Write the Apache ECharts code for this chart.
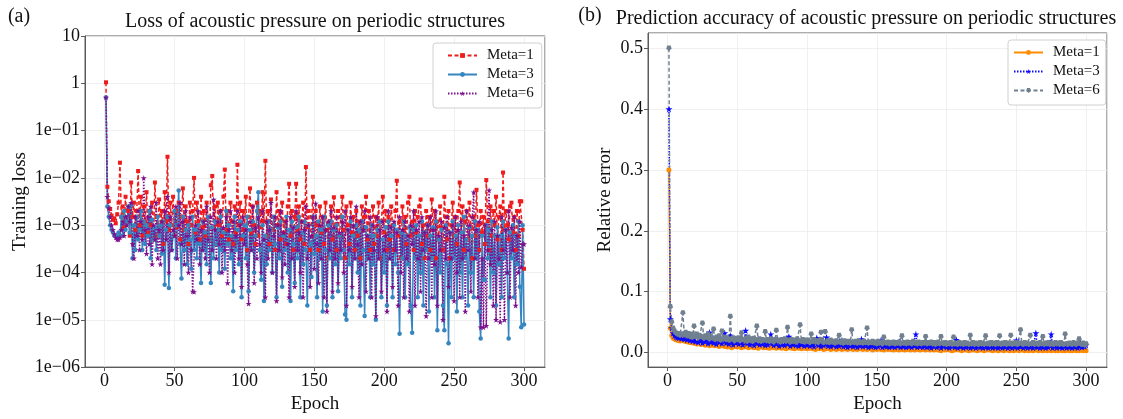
<!DOCTYPE html>
<html><head><meta charset="utf-8">
<script src="https://cdn.jsdelivr.net/npm/echarts@6/dist/echarts.min.js"></script>
<style>html,body{margin:0;padding:0;background:#fff}#c{width:1123px;height:419px}</style>
</head><body><div id="c"></div>
<script>
// ---- Data ----
const epochCount = 300;
const xTicks = [0, 50, 100, 150, 200, 250, 300];
const logTicks = [1e-6, 1e-5, 1e-4, 1e-3, 1e-2, 1e-1, 1, 10];
const legendNames = ['Meta=1', 'Meta=3', 'Meta=6'];

// (a) Training loss
const lossMeta1 = [
1.05,6.5e-3,3.2e-3,2.2e-3,1.6e-3,1.3e-3,1.4e-3,1.1e-3,1.7e-3,3e-3,
2.1e-2,1.5e-3,2.5e-3,9e-4,4e-3,1.2e-3,2e-3,6e-4,8e-3,1.5e-3,
3e-3,8e-4,2e-3,1.4e-2,1e-3,4e-3,6e-4,2.5e-3,1.2e-3,5e-3,
7e-4,2e-3,1e-3,3e-3,5e-4,8e-3,1.5e-3,6e-4,3.5e-3,1e-3,
2e-3,4e-4,5e-3,1.2e-3,2.8e-2,8e-4,3e-3,1e-3,4e-3,6e-4,
2e-3,9e-4,3e-3,5e-4,1.5e-3,6e-3,8e-4,2.5e-3,1.2e-3,4e-4,
3e-3,1e-3,2e-3,1e-2,7e-4,3e-3,1.2e-3,5e-4,4e-3,9e-4,
2e-3,6e-4,3e-3,1.5e-3,5e-4,7e-3,1.1e-2,9e-4,2.5e-3,4e-4,
3e-3,1e-3,2e-3,6e-4,4e-3,1.5e-2,8e-4,2e-3,5e-4,3e-3,
1.2e-3,4e-4,2.5e-3,7e-4,1.9e-2,1e-3,3e-3,5e-4,2e-3,8e-4,
4e-3,3e-4,1.5e-3,6e-3,7e-4,2.5e-3,1e-3,4e-4,3e-3,6e-4,
2e-3,9e-4,5e-3,1.2e-3,2.3e-2,6e-4,2e-3,4e-4,3.5e-3,8e-4,
1.5e-3,3e-4,5e-3,1e-3,2e-3,5e-4,3e-3,7e-4,1.2e-3,4e-4,
2.5e-3,7.5e-3,6e-4,2e-3,3e-4,1.5e-3,7.5e-3,8e-4,2.5e-3,5e-4,
1.2e-3,3e-3,4e-4,1.7e-2,9e-4,2e-3,3e-4,1.5e-3,4e-3,6e-4,
2e-3,1e-3,3e-4,2.5e-3,7e-4,1.5e-3,4e-4,3e-3,8e-4,2e-4,
1.2e-3,2.5e-3,5e-4,3.9e-3,1e-3,3e-4,2e-3,6e-4,1.5e-3,4e-3,
8e-4,2e-4,2.5e-3,1e-3,4e-4,3e-3,7e-4,1.5e-3,3e-4,2e-3,
6e-4,1.2e-3,2e-4,2.5e-3,8e-4,1.5e-3,4e-3,5e-4,2e-3,3e-4,
1e-3,2.5e-3,4e-4,1.5e-3,6e-4,3e-3,2e-4,1.2e-3,4e-3,7e-4,
2e-3,3e-4,1.5e-3,5e-4,2.5e-3,1e-3,3e-4,2e-3,8.7e-3,6e-4,
1.2e-3,2e-4,2.5e-3,8e-4,1.5e-3,4e-4,3e-3,4e-3,6e-4,1.2e-3,
3e-4,2e-3,7e-4,1.5e-3,2.5e-3,3.5e-3,4e-4,1e-3,2e-4,2e-3,
6e-4,1.5e-3,3e-4,3.5e-3,8e-4,2e-3,2e-4,1.2e-3,5e-4,2.5e-3,
9e-4,3e-4,4e-3,1.5e-3,5e-4,2e-3,2e-4,1e-3,3e-3,6e-4,
1.5e-3,4e-4,2e-3,8e-3,7e-4,2.5e-3,3e-4,1.2e-3,2e-3,5e-4,
3e-3,9e-4,2e-4,1.5e-3,6e-4,5.6e-3,1e-3,3e-4,2e-3,7e-4,
1.5e-3,4e-4,9e-3,1.2e-3,3e-4,2.5e-3,6e-4,2e-3,1e-3,4e-3,
5e-4,1.5e-3,2.5e-3,3e-4,1.3e-2,8e-4,2e-3,1e-3,5e-4,2.5e-3,
3e-3,7e-4,1.5e-3,3e-4,2e-3,6e-4,3.2e-3,3.2e-3,8e-4,1.2e-4];

const lossMeta3 = [
0.5,2.5e-3,1.5e-3,1e-3,8e-4,7e-4,6e-4,6e-4,5.5e-4,7e-4,
6e-4,1.5e-3,6e-4,2e-3,8e-4,1.2e-3,2.5e-3,7e-4,2.6e-3,2e-4,
1e-3,3e-4,1.5e-3,5e-4,8e-4,2e-3,3e-4,1.2e-3,4e-4,1e-3,
6e-4,2e-3,2e-4,1.3e-3,5e-4,9e-4,3e-4,1.5e-3,6e-4,1e-3,
2.5e-4,1.2e-3,5.5e-5,8e-4,1.5e-3,4.7e-5,1e-3,3e-4,6e-4,2e-3,
2e-4,1e-3,5.4e-3,4e-4,7.5e-5,1.5e-3,3e-4,8e-4,1.5e-4,1e-3,
5e-4,1.2e-4,1.5e-3,3e-4,8e-4,2e-4,1e-3,4e-4,6e-5,1.2e-3,
3e-4,7e-4,1.5e-4,1.5e-3,5e-4,6e-5,9e-4,2e-4,1.2e-3,4e-4,
8e-4,1e-4,1.5e-3,3e-4,7e-4,1.2e-4,2e-3,4e-4,1e-3,2e-4,
6e-4,4e-5,1.5e-3,3e-4,8e-4,1.5e-4,1.2e-3,3e-5,6e-4,1e-3,
2e-4,1.5e-3,4e-5,8e-4,3e-4,1.2e-3,1e-4,6e-4,2e-3,5e-3,
3e-4,7e-5,1e-3,2.5e-5,6e-4,1.5e-4,1.2e-3,3e-4,8e-4,1e-4,
1.5e-3,4e-4,3e-5,9e-4,2e-4,1.2e-3,5e-5,6e-4,3e-4,1.5e-3,
1e-4,8e-4,2.5e-5,1.2e-3,4e-4,6e-5,9e-4,2e-4,1.5e-3,3e-5,
7e-4,1.5e-4,1.2e-3,3e-4,2e-5,1e-3,4e-4,8e-5,1.5e-3,2.5e-4,
6e-4,3e-5,1.2e-3,2e-4,8e-4,1.5e-5,1.5e-3,3e-4,2e-5,1e-3,
2e-4,1.2e-3,3e-5,8e-4,1.5e-4,1e-3,4e-5,6e-4,2e-4,1.5e-3,
3e-4,1.3e-5,1e-5,8e-4,1.5e-4,1.2e-3,3e-5,6e-4,2e-4,1e-3,
1e-4,8e-4,2e-5,1.2e-3,3e-4,1.2e-5,9e-4,2e-4,6e-4,3e-5,
1e-3,1.5e-4,6e-4,1e-5,8e-4,2e-4,1.2e-3,3e-5,5e-4,1e-4,
9e-4,2e-5,1.2e-3,2e-4,6e-4,3e-5,1e-3,1.5e-4,8e-4,1e-4,
5.1e-6,7e-4,2e-4,1.2e-3,3e-5,6e-4,1.5e-4,9e-4,2e-5,5.3e-6,
8e-4,2e-4,1e-3,3e-5,6e-4,1e-4,1.2e-3,2e-5,7e-4,3e-4,
1e-3,1.5e-5,6e-4,2e-4,9e-4,3e-5,1.2e-3,6e-6,5e-4,1e-4,
8e-4,2e-5,6e-6,1e-3,1.5e-4,3.2e-6,7e-4,3e-5,1.2e-3,2e-4,
6e-4,1.5e-5,1e-3,1e-4,7e-4,3e-5,1.5e-3,2e-4,5e-4,2e-5,
9e-4,1e-4,6e-4,3e-5,1.2e-3,2e-4,8e-4,1.5e-5,4e-6,6e-4,
7e-5,7e-5,1e-3,2e-4,8e-4,3e-5,1.2e-3,1e-4,6e-4,2e-5,
9e-4,1.5e-4,6e-4,3e-5,1.2e-3,2e-4,8e-4,1e-4,4e-6,7e-4,
2e-4,1e-3,3e-5,6e-4,1.5e-4,1.2e-3,5e-5,7e-6,1e-3,8e-6];

const lossMeta6 = [
0.5,4e-3,2.3e-3,1.5e-3,1e-3,8e-4,6.5e-4,5.5e-4,5e-4,5e-4,
5.5e-4,8e-4,1.2e-3,6e-4,1.5e-3,1e-3,2.5e-3,1.2e-3,3e-3,4e-4,
2e-4,1.5e-3,6e-4,2e-3,3e-4,1.2e-3,5e-4,1e-2,8e-4,2.5e-4,
1.5e-3,4e-4,2.5e-3,1.5e-4,1e-3,5e-4,3e-3,2e-4,8e-4,1.5e-4,
1.2e-3,3e-4,2e-3,5e-4,4e-3,1e-4,1.5e-3,3e-4,8e-4,6e-4,
2.5e-3,2e-4,1e-3,3e-3,4e-4,1.2e-3,1.5e-4,2e-3,6e-4,1e-4,
1.5e-3,3e-4,4e-5,3.9e-5,1e-3,5e-4,2e-3,1.5e-4,8e-4,3e-4,
1.2e-3,2e-4,2.5e-3,5e-4,1e-4,1.5e-3,3e-4,3.5e-3,8e-4,2e-4,
1.2e-3,4e-4,2e-3,1e-4,9e-4,3e-4,1.5e-3,6e-5,8e-4,2e-3,
3e-4,1.2e-3,1e-4,6e-4,2e-3,2e-4,1e-3,5e-5,1.5e-3,4e-4,
8e-4,1.5e-4,2.2e-5,1.2e-3,3e-4,2.5e-3,6e-5,9e-4,2e-4,1.5e-3,
4e-4,1e-4,2e-3,5e-4,3e-5,1.2e-3,2e-4,8e-4,3e-3,1e-4,
6e-4,1.5e-3,2.5e-5,1e-3,3e-4,2e-3,8e-5,7e-4,1.5e-4,1.2e-3,
4e-4,3e-5,1.5e-3,2e-4,9e-4,5e-5,2e-3,3e-4,7e-4,1e-4,
1.2e-3,3e-5,8e-4,2.5e-3,2e-4,1e-3,5e-5,6e-4,1.5e-3,1.2e-4,
2.9e-3,4e-4,6e-5,1e-3,2e-4,1.5e-3,3e-5,8e-4,1.5e-5,1.2e-3,
3e-4,2e-3,4e-5,9e-4,2e-4,1.5e-3,6e-5,7e-4,3e-4,1.2e-3,
1e-4,2e-3,2e-5,8e-4,3e-4,1.5e-3,5e-5,1e-3,2e-4,2.5e-3,
4e-4,3e-5,1.2e-3,1.5e-4,8e-4,2e-3,4e-5,6e-4,2e-4,1.5e-3,
3e-5,1e-3,3e-4,1.2e-5,1.5e-3,2e-4,8e-4,4e-5,1.2e-3,3e-4,
6e-4,1.5e-5,2e-3,2e-4,9e-4,5e-5,1.2e-3,3e-4,7e-4,2e-5,
1.5e-3,1e-4,8e-4,3e-5,1.2e-3,2e-4,6e-4,1.5e-5,1e-3,4e-4,
2e-3,2e-5,8e-4,2e-4,1.2e-3,4e-5,1.5e-3,3e-4,7e-4,1.2e-5,
1e-3,2e-4,1.5e-3,3e-5,8e-4,1.5e-4,2e-3,2e-5,6e-4,3e-4,
1.2e-3,1e-5,9e-4,2e-4,1.5e-3,5e-5,7e-4,2e-4,1e-3,2.5e-5,
1.5e-3,1e-4,8e-4,3e-5,1.2e-3,2e-4,6e-4,1.5e-5,2e-3,3e-4,
1e-3,4e-5,1.5e-3,5e-3,2e-4,8e-4,3e-5,1.2e-3,7e-6,2e-4,
7e-6,1e-3,7.5e-6,3e-4,5.5e-3,1.5e-4,8e-4,2e-5,1.2e-3,1e-5,
6e-4,2e-4,9e-6,1.5e-3,3e-4,1e-5,8e-4,1e-4,2e-3,3e-5,
9e-4,3e-4,1.5e-3,2e-5,6e-4,1e-4,1.2e-3,1.3e-4,4e-4,4e-4];

// (b) Relative error
const errMeta1 = [
0.30,0.04,0.028,0.024,0.022,0.021,0.02,0.02,0.019,0.02,
0.021,0.019,0.018,0.02,0.017,0.018,0.016,0.019,0.015,0.017,
0.014,0.016,0.015,0.013,0.016,0.014,0.012,0.015,0.013,0.011,
0.014,0.012,0.013,0.011,0.014,0.012,0.01,0.013,0.011,0.012,
0.01,0.013,0.009,0.012,0.011,0.008,0.012,0.01,0.011,0.009,
0.012,0.01,0.008,0.011,0.009,0.012,0.01,0.008,0.011,0.009,
0.01,0.008,0.011,0.009,0.007,0.01,0.009,0.011,0.008,0.01,
0.008,0.01,0.007,0.009,0.011,0.008,0.009,0.007,0.01,0.008,
0.009,0.007,0.01,0.008,0.006,0.009,0.008,0.01,0.007,0.008,
0.006,0.009,0.008,0.007,0.01,0.006,0.008,0.007,0.009,0.006,
0.008,0.007,0.009,0.006,0.008,0.005,0.007,0.009,0.006,0.012,
0.007,0.005,0.008,0.006,0.009,0.007,0.005,0.008,0.006,0.007,
0.005,0.008,0.006,0.007,0.005,0.009,0.006,0.007,0.005,0.008,
0.006,0.007,0.005,0.008,0.006,0.005,0.007,0.006,0.008,0.005,
0.007,0.006,0.005,0.008,0.006,0.007,0.004,0.006,0.008,0.005,
0.006,0.007,0.005,0.006,0.004,0.007,0.006,0.005,0.008,0.005,
0.006,0.004,0.007,0.005,0.006,0.004,0.007,0.005,0.006,0.004,
0.006,0.005,0.007,0.004,0.006,0.005,0.004,0.007,0.005,0.006,
0.004,0.006,0.005,0.007,0.004,0.005,0.006,0.004,0.007,0.005,
0.004,0.006,0.005,0.004,0.006,0.003,0.005,0.006,0.004,0.005,
0.006,0.004,0.005,0.003,0.006,0.004,0.005,0.006,0.004,0.005,
0.003,0.005,0.006,0.004,0.005,0.003,0.006,0.004,0.005,0.004,
0.006,0.003,0.005,0.004,0.006,0.004,0.003,0.005,0.004,0.006,
0.004,0.005,0.003,0.005,0.004,0.006,0.003,0.005,0.004,0.005,
0.003,0.005,0.004,0.006,0.003,0.004,0.005,0.003,0.005,0.004,
0.005,0.003,0.004,0.006,0.004,0.003,0.005,0.004,0.003,0.005,
0.004,0.003,0.005,0.004,0.006,0.003,0.004,0.005,0.003,0.004,
0.005,0.003,0.004,0.005,0.003,0.004,0.005,0.003,0.004,0.003,
0.005,0.004,0.003,0.005,0.003,0.004,0.005,0.003,0.004,0.003,
0.004,0.005,0.003,0.004,0.003,0.005,0.004,0.003,0.004,0.003];

const errMeta3 = [
0.40,0.055,0.04,0.032,0.028,0.026,0.025,0.024,0.026,0.023,
0.03,0.022,0.027,0.021,0.025,0.02,0.028,0.019,0.024,0.018,
0.026,0.017,0.022,0.02,0.016,0.024,0.018,0.021,0.015,0.033,
0.017,0.022,0.016,0.02,0.014,0.023,0.017,0.019,0.015,0.021,
0.032,0.016,0.02,0.014,0.028,0.018,0.013,0.021,0.016,0.019,
0.014,0.022,0.017,0.013,0.02,0.036,0.015,0.019,0.013,0.021,
0.016,0.012,0.019,0.015,0.022,0.013,0.018,0.014,0.02,0.012,
0.017,0.013,0.021,0.03,0.015,0.012,0.018,0.014,0.02,0.011,
0.016,0.013,0.019,0.012,0.017,0.014,0.026,0.011,0.018,0.013,
0.016,0.012,0.02,0.011,0.015,0.013,0.019,0.011,0.017,0.012,
0.015,0.011,0.018,0.013,0.01,0.016,0.024,0.012,0.015,0.01,
0.018,0.012,0.014,0.025,0.011,0.016,0.01,0.014,0.012,0.017,
0.01,0.015,0.011,0.013,0.02,0.01,0.015,0.012,0.009,0.016,
0.011,0.014,0.01,0.017,0.012,0.009,0.015,0.011,0.022,0.01,
0.014,0.011,0.016,0.009,0.013,0.01,0.015,0.011,0.009,0.014,
0.01,0.013,0.02,0.009,0.014,0.011,0.01,0.015,0.009,0.012,
0.01,0.014,0.009,0.012,0.011,0.018,0.009,0.013,0.01,0.012,
0.009,0.014,0.01,0.012,0.009,0.013,0.011,0.03,0.009,0.012,
0.01,0.013,0.009,0.011,0.014,0.009,0.012,0.01,0.008,0.013,
0.01,0.012,0.009,0.014,0.011,0.008,0.012,0.01,0.013,0.009,
0.011,0.008,0.013,0.01,0.012,0.009,0.021,0.008,0.011,0.01,
0.013,0.008,0.011,0.009,0.012,0.01,0.008,0.013,0.009,0.011,
0.008,0.012,0.01,0.009,0.013,0.008,0.011,0.009,0.012,0.008,
0.01,0.012,0.008,0.011,0.009,0.013,0.008,0.01,0.012,0.008,
0.011,0.009,0.013,0.008,0.01,0.012,0.008,0.011,0.009,0.02,
0.008,0.011,0.01,0.012,0.008,0.01,0.013,0.008,0.011,0.009,
0.012,0.008,0.01,0.032,0.009,0.011,0.008,0.012,0.009,0.01,
0.008,0.011,0.009,0.012,0.03,0.008,0.01,0.012,0.008,0.011,
0.009,0.012,0.008,0.01,0.011,0.008,0.012,0.009,0.01,0.008,
0.011,0.009,0.012,0.008,0.01,0.016,0.009,0.011,0.01,0.012];

const errMeta6 = [
0.50,0.075,0.05,0.04,0.035,0.032,0.03,0.031,0.028,0.03,
0.065,0.029,0.033,0.027,0.031,0.026,0.03,0.025,0.043,0.026,
0.03,0.024,0.028,0.026,0.048,0.023,0.027,0.025,0.03,0.022,
0.026,0.024,0.038,0.021,0.025,0.023,0.027,0.02,0.035,0.022,
0.025,0.021,0.024,0.02,0.059,0.022,0.024,0.019,0.023,0.021,
0.024,0.019,0.032,0.021,0.02,0.023,0.018,0.025,0.02,0.022,
0.018,0.023,0.021,0.043,0.019,0.022,0.018,0.021,0.02,0.034,
0.019,0.021,0.018,0.022,0.02,0.017,0.021,0.036,0.019,0.02,
0.017,0.021,0.019,0.022,0.018,0.041,0.02,0.017,0.021,0.018,
0.02,0.017,0.022,0.019,0.045,0.018,0.021,0.017,0.02,0.018,
0.02,0.016,0.03,0.018,0.021,0.017,0.019,0.016,0.02,0.033,
0.018,0.016,0.034,0.017,0.019,0.016,0.02,0.017,0.018,0.015,
0.019,0.017,0.028,0.016,0.018,0.015,0.019,0.017,0.016,0.018,
0.015,0.037,0.017,0.016,0.018,0.015,0.019,0.016,0.017,0.015,
0.018,0.016,0.04,0.015,0.017,0.016,0.018,0.015,0.017,0.014,
0.018,0.015,0.017,0.014,0.025,0.016,0.015,0.017,0.014,0.016,
0.015,0.017,0.014,0.016,0.015,0.017,0.014,0.027,0.015,0.016,
0.014,0.017,0.015,0.016,0.014,0.018,0.015,0.016,0.014,0.017,
0.015,0.014,0.016,0.015,0.026,0.014,0.016,0.015,0.017,0.014,
0.016,0.013,0.015,0.017,0.014,0.026,0.015,0.014,0.016,0.013,
0.015,0.014,0.016,0.013,0.025,0.014,0.015,0.013,0.016,0.014,
0.015,0.013,0.016,0.014,0.015,0.013,0.028,0.014,0.016,0.013,
0.015,0.014,0.013,0.016,0.014,0.015,0.013,0.027,0.014,0.015,
0.013,0.016,0.014,0.015,0.013,0.016,0.014,0.027,0.013,0.015,
0.014,0.016,0.013,0.015,0.014,0.028,0.013,0.015,0.014,0.016,
0.013,0.015,0.037,0.014,0.013,0.016,0.014,0.015,0.013,0.028,
0.014,0.016,0.013,0.015,0.014,0.013,0.016,0.014,0.026,0.013,
0.015,0.014,0.016,0.013,0.015,0.014,0.013,0.016,0.014,0.015,
0.013,0.016,0.014,0.013,0.03,0.014,0.013,0.015,0.014,0.013,
0.016,0.014,0.013,0.015,0.022,0.014,0.013,0.015,0.012,0.014];

// ---- Build chart ----
const epochs = [];
for (let i = 1; i <= epochCount; i++) epochs.push(i);
const pairs = arr => arr.map((v, i) => [epochs[i], v]);

const SERIF = '"Liberation Serif", "Times New Roman", serif';
const STAR = 'path://M50,0 L61,35 L98,35 L68,57 L79,91 L50,70 L21,91 L32,57 L2,35 L39,35 Z';
const PENT = 'path://M50,100 L2,62 L20,2 L80,2 L98,62 Z';
const frame = '#5a5a5a';
const gridLine = '#ececec';
const TICK_FONT = 18;
const NAME_FONT = 19;

function xAxis(gridIndex) {
  return {
    type: 'value', gridIndex, min: -14, max: 315, splitNumber: 6,
    name: 'Epoch', nameLocation: 'middle', nameGap: 20,
    nameTextStyle: { fontFamily: SERIF, fontSize: NAME_FONT, color: '#111' },
    axisLine: { show: true, onZero: false, lineStyle: { color: frame, width: 1 } },
    axisTick: { show: true, length: 4, lineStyle: { color: frame } },
    axisLabel: { fontFamily: SERIF, fontSize: TICK_FONT, color: '#111', margin: 5, showMinLabel: false, showMaxLabel: false,
      formatter: v => (xTicks.indexOf(v) >= 0 ? String(v) : '') },
    splitLine: { show: true, lineStyle: { color: gridLine, width: 0.8 } }
  };
}

const expLabel = v => {
  const e = Math.round(Math.log10(v));
  if (e === 1) return '10';
  if (e === 0) return '1';
  return '1e\u2212' + String(Math.abs(e)).padStart(2, '0');
};

function lineSeries(name, x, y, data, color, type, symbol, size, width) {
  return {
    name, type: 'line', xAxisIndex: x, yAxisIndex: y, data,
    symbol, symbolSize: size, showAllSymbol: true, animation: false,
    lineStyle: { color, type, width },
    itemStyle: { color, borderWidth: 0 },
    emphasis: { disabled: true }
  };
}

const legendCommon = {
  orient: 'vertical', itemWidth: 29, itemHeight: 6, itemGap: 4,
  backgroundColor: 'rgba(255,255,255,0.9)', borderColor: '#d0d0d0', borderWidth: 1, borderRadius: 3,
  textStyle: { fontFamily: SERIF, fontSize: 15, color: '#111', padding: [0, 0, 0, 5] },
  formatter: n => n.replace(/^b:/, ''), selectedMode: false
};

const option = {
  backgroundColor: '#fff',
  animation: false,
  graphic: [
    { type: 'text', x: 19, y: 17, style: { text: '(a)', font: '20px ' + SERIF, fill: '#111', align: 'center', verticalAlign: 'middle' } },
    { type: 'text', x: 590, y: 16, style: { text: '(b)', font: '20px ' + SERIF, fill: '#111', align: 'center', verticalAlign: 'middle' } },
    { type: 'text', x: 315, y: 22, style: { text: 'Loss of acoustic pressure on periodic structures', font: '20px ' + SERIF, fill: '#111', align: 'center', verticalAlign: 'middle' } },
    { type: 'text', x: 866, y: 19, style: { text: 'Prediction accuracy of acoustic pressure on periodic structures', font: '20px ' + SERIF, fill: '#111', align: 'center', verticalAlign: 'middle' } }
  ],
  grid: [
    { left: 85, top: 36, width: 460, height: 342, show: true, borderColor: frame, borderWidth: 1, backgroundColor: '#fff' },
    { left: 648, top: 33, width: 459, height: 344, show: true, borderColor: frame, borderWidth: 1, backgroundColor: '#fff' }
  ],
  xAxis: [xAxis(0), xAxis(1)],
  yAxis: [
    { type: 'log', gridIndex: 0, logBase: 10, min: logTicks[0], max: logTicks[logTicks.length - 1], splitNumber: 7,
      name: 'Training loss', nameLocation: 'middle', nameGap: 55,
      nameTextStyle: { fontFamily: SERIF, fontSize: NAME_FONT, color: '#111' },
      axisLine: { show: true, onZero: false, lineStyle: { color: frame } },
      axisTick: { show: true, length: 4, lineStyle: { color: frame } },
      axisLabel: { fontFamily: SERIF, fontSize: TICK_FONT, color: '#111', margin: 5, formatter: expLabel },
      splitLine: { show: true, lineStyle: { color: gridLine, width: 0.8 } } },
    { type: 'value', gridIndex: 1, min: -0.024, max: 0.525, splitNumber: 5,
      name: 'Relative error', nameLocation: 'middle', nameGap: 33,
      nameTextStyle: { fontFamily: SERIF, fontSize: NAME_FONT, color: '#111' },
      axisLine: { show: true, onZero: false, lineStyle: { color: frame } },
      axisTick: { show: true, length: 4, lineStyle: { color: frame } },
      axisLabel: { fontFamily: SERIF, fontSize: TICK_FONT, color: '#111', margin: 5, showMinLabel: false, showMaxLabel: false,
        formatter: v => Math.abs(v).toFixed(1) },
      splitLine: { show: true, lineStyle: { color: gridLine, width: 0.8 } } }
  ],
  legend: [
    Object.assign({}, legendCommon, { left: 433, top: 43, padding: [5, 8, 7, 14], data: legendNames }),
    Object.assign({}, legendCommon, { left: 1008, top: 40, padding: [5, 6, 7, 5], data: legendNames.map(n => 'b:' + n) })
  ],
  series: [
    lineSeries('Meta=1', 0, 0, pairs(lossMeta1), '#ee1c1c', [4, 2.5], 'rect', 4, 1.5),
    lineSeries('Meta=3', 0, 0, pairs(lossMeta3), '#3585c0', 'solid', 'circle', 4.5, 1.5),
    lineSeries('Meta=6', 0, 0, pairs(lossMeta6), '#7d0f8e', [1.5, 1.5], STAR, 6, 1.5),
    lineSeries('b:Meta=1', 1, 1, pairs(errMeta1), '#ff8c00', 'solid', 'circle', 5, 1.5),
    lineSeries('b:Meta=3', 1, 1, pairs(errMeta3), '#0a0aff', [1.5, 1.5], STAR, 7, 1.5),
    lineSeries('b:Meta=6', 1, 1, pairs(errMeta6), '#708090', [4, 2.5], PENT, 5.5, 1.5)
  ]
};

const chart = echarts.init(document.getElementById('c'), null, { renderer: 'canvas' });
chart.setOption(option);
</script>
</body></html>
